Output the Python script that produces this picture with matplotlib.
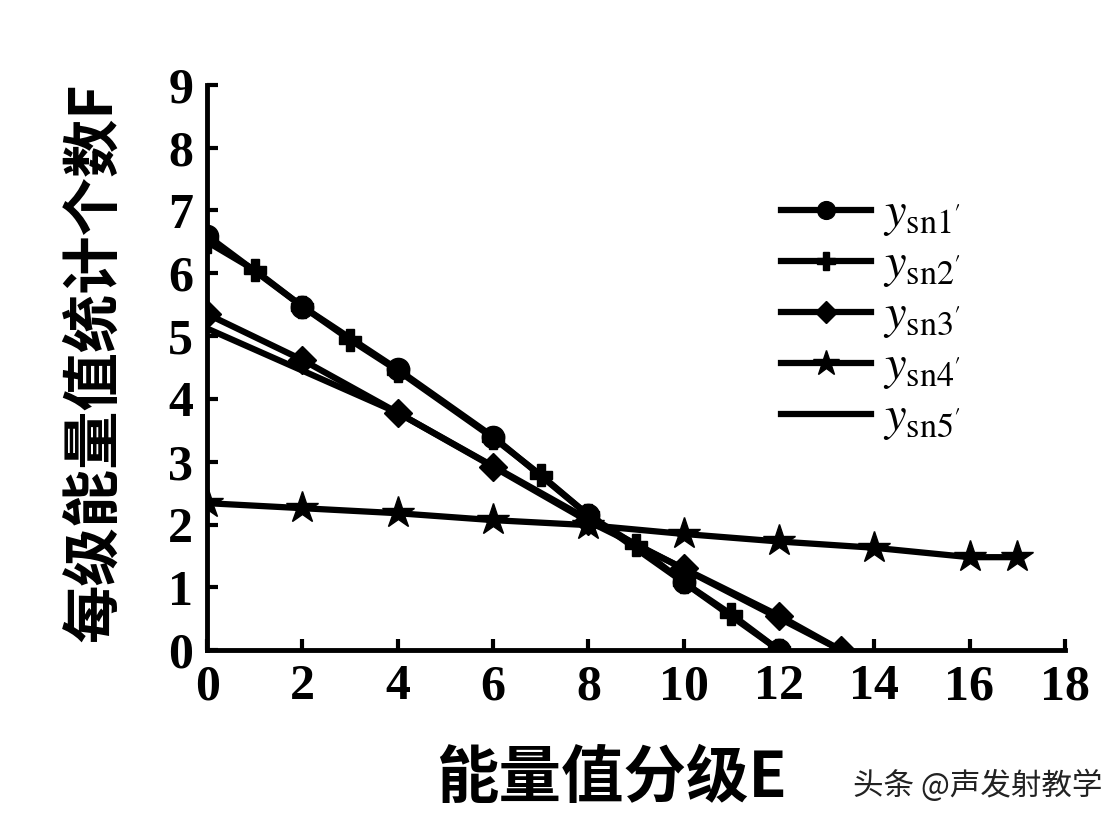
import matplotlib
matplotlib.use('Agg')
import matplotlib.pyplot as plt

plt.rcParams['mathtext.fontset'] = 'stix'

# upper line, circles
x1 = [0, 2, 4, 6, 8, 10, 12]
y1 = [6.6, 5.47, 4.47, 3.4, 2.15, 1.08, 0.0]
# upper line, plus
x2 = [0, 1, 2, 3, 4, 6, 7, 8, 9, 10, 11, 12]
y2 = [6.5, 6.05, 5.47, 4.94, 4.45, 3.38, 2.79, 2.15, 1.67, 1.08, 0.57, 0.0]
# middle line, diamonds
x3 = [0, 2, 4, 6, 8, 10, 12, 13.3]
y3 = [5.35, 4.62, 3.78, 2.92, 2.05, 1.3, 0.55, 0.0]
# bottom line, stars
x4 = [0, 2, 4, 6, 8, 10, 12, 14, 16, 17]
y4 = [2.34, 2.26, 2.18, 2.07, 1.99, 1.85, 1.73, 1.63, 1.48, 1.48]
# plain line
x5 = [0, 4, 8, 13.3]
y5 = [5.12, 3.78, 2.08, 0.0]

labels = ["$y_{\\rm sn1'}$", "$y_{\\rm sn2'}$", "$y_{\\rm sn3'}$",
          "$y_{\\rm sn4'}$", "$y_{\\rm sn5'}$"]

fig = plt.figure(figsize=(11.08, 8.24), dpi=100)
ax = fig.add_axes([0.187, 0.211, 0.774, 0.686])

lw = 4.5
ax.plot(x5, y5, color='black', lw=lw, label=labels[4], zorder=2)
ax.plot(x1, y1, color='black', lw=lw, marker='o', ms=16, label=labels[0])
ax.plot(x2, y2, color='black', lw=lw, marker='P', ms=16, label=labels[1])
ax.plot(x3, y3, color='black', lw=lw, marker='D', ms=14, label=labels[2])
ax.plot(x4, y4, color='black', lw=lw, marker='*', ms=24, label=labels[3])

ax.set_xlim(0, 18)
ax.set_ylim(0, 9)
ax.set_xticks(range(0, 19, 2))
ax.set_yticks(range(0, 10))
for s in ['top', 'right']:
    ax.spines[s].set_visible(False)
for s in ['left', 'bottom']:
    ax.spines[s].set_linewidth(3.5)
ax.tick_params(direction='in', length=8, width=3, pad=10)
for lab in ax.get_xticklabels() + ax.get_yticklabels():
    lab.set_fontfamily('Liberation Serif')
    lab.set_fontweight('bold')
    lab.set_fontsize(36)

ax.set_xlabel('能量值分级E', fontfamily=['Noto Sans CJK SC'], fontweight='bold',
              fontsize=45)
ax.xaxis.set_label_coords(0.472, -0.172)
ax.set_ylabel('每级能量值统计个数F', fontfamily=['Noto Sans CJK SC'], fontweight='bold',
              fontsize=42)
ax.yaxis.set_label_coords(-0.097, 0.51)

h, l = ax.get_legend_handles_labels()
order = [1, 2, 3, 4, 0]
leg = fig.legend([h[i] for i in order], [l[i] for i in order],
                 loc='upper left', bbox_to_anchor=(737 / 1108, 1 - 145 / 824),
                 frameon=False, fontsize=35, handlelength=1.85, handletextpad=0.25,
                 labelspacing=0.02, markerscale=0.8)

fig.text(0.77, 0.035, '头条 @声发射教学', fontfamily=['Noto Sans CJK SC'],
         fontsize=22, color='#222222')

fig.savefig('out.png', dpi=100)
